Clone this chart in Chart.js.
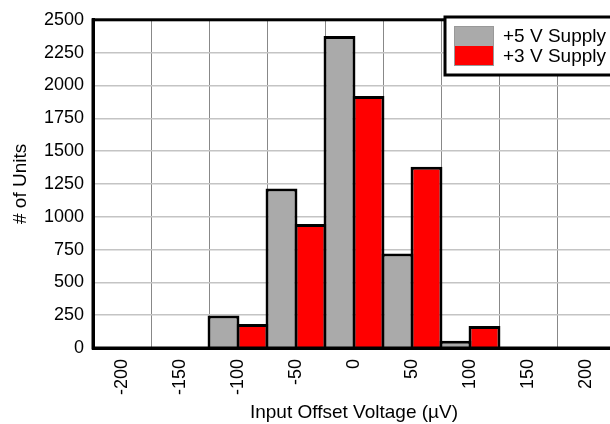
<!DOCTYPE html>
<html>
<head>
<meta charset="utf-8">
<script src="https://cdn.jsdelivr.net/npm/chart.js@4/dist/chart.umd.min.js"></script>
<style>
html,body{margin:0;padding:0;background:#fff;overflow:hidden;}
#wrap{width:620px;height:424px;}
</style>
</head>
<body>
<div id="wrap"><canvas id="c" width="620" height="424" style="width:620px;height:424px"></canvas></div>
<script>
const categories = ['-200','-150','-100','-50','0','50','100','150','200'];
const supply5V = [0, 0, 248, 1215, 2376, 720, 55, 0, 0];
const supply3V = [0, 5, 182, 945, 1920, 1380, 168, 8, 0];
const seriesLabels = ['+5 V Supply', '+3 V Supply'];
const seriesColors = ['#aaaaaa', '#ff0000'];
const yTicks = {min: 0, max: 2500, step: 250};

const FONT = 'Liberation Sans, Arial, sans-serif';
const FS = 19;

const frame = {
  id: 'frame',
  afterDraw(chart) {
    const {ctx, chartArea: a} = chart;
    ctx.save();
    ctx.strokeStyle = '#000';
    ctx.lineWidth = 3;
    ctx.strokeRect(a.left, a.top, a.right - a.left, a.bottom - a.top);
    // legend
    const lx = 445, ly = 17, lw = 190, lh = 58;
    ctx.fillStyle = '#fff';
    ctx.fillRect(lx, ly, lw, lh);
    ctx.strokeRect(lx, ly, lw, lh);
    ctx.font = FS + 'px ' + FONT;
    ctx.textBaseline = 'middle';
    chart.data.datasets.forEach((ds, i) => {
      const sy = 26 + i * 20;
      ctx.fillStyle = ds.backgroundColor;
      ctx.fillRect(454, sy, 40, 20);
      ctx.fillStyle = '#000';
      ctx.fillText(ds.label, 503, sy + 11);
    });
    ctx.lineWidth = 1;
    ctx.strokeStyle = '#999';
    ctx.strokeRect(454.5, 26.5, 39, 39);
    ctx.restore();
  }
};

new Chart(document.getElementById('c'), {
  type: 'bar',
  data: {
    labels: categories,
    datasets: [
      {label: seriesLabels[0], data: supply5V, backgroundColor: seriesColors[0]},
      {label: seriesLabels[1], data: supply3V, backgroundColor: seriesColors[1]}
    ]
  },
  options: {
    responsive: false,
    animation: false,
    devicePixelRatio: 1,
    layout: {padding: {left: 0, top: 16, right: 5, bottom: 0}},
    datasets: {
      bar: {
        borderColor: '#000',
        borderWidth: 3,
        categoryPercentage: 1,
        barPercentage: 1.1,
        borderSkipped: 'start'
      }
    },
    plugins: {legend: {display: false}, tooltip: {enabled: false}},
    scales: {
      x: {
        grid: {color: '#888', lineWidth: 1, drawTicks: false, offset: true},
        border: {color: '#000', width: 3},
        ticks: {
          color: '#000', font: {family: FONT, size: 18},
          minRotation: 90, maxRotation: 90, padding: 11, autoSkip: false
        },
        title: {display: true, text: 'Input Offset Voltage (\u00b5V)', color: '#000',
          font: {family: FONT, size: FS}, padding: {top: 0, bottom: 0}},
        afterFit(s) { s.height = 76; }
      },
      y: {
        min: yTicks.min, max: yTicks.max,
        grid: {color: '#c4c4c4', lineWidth: 1.5, drawTicks: false},
        border: {color: '#000', width: 3},
        ticks: {stepSize: yTicks.step, color: '#000', font: {family: FONT, size: 18}, padding: 9,
          callback: v => String(v)},
        title: {display: true, text: '# of Units', color: '#000',
          font: {family: FONT, size: FS}, padding: {top: 9, bottom: 0}},
        afterFit(s) { s.width = 93; }
      }
    }
  },
  plugins: [frame]
});
</script>
</body>
</html>
